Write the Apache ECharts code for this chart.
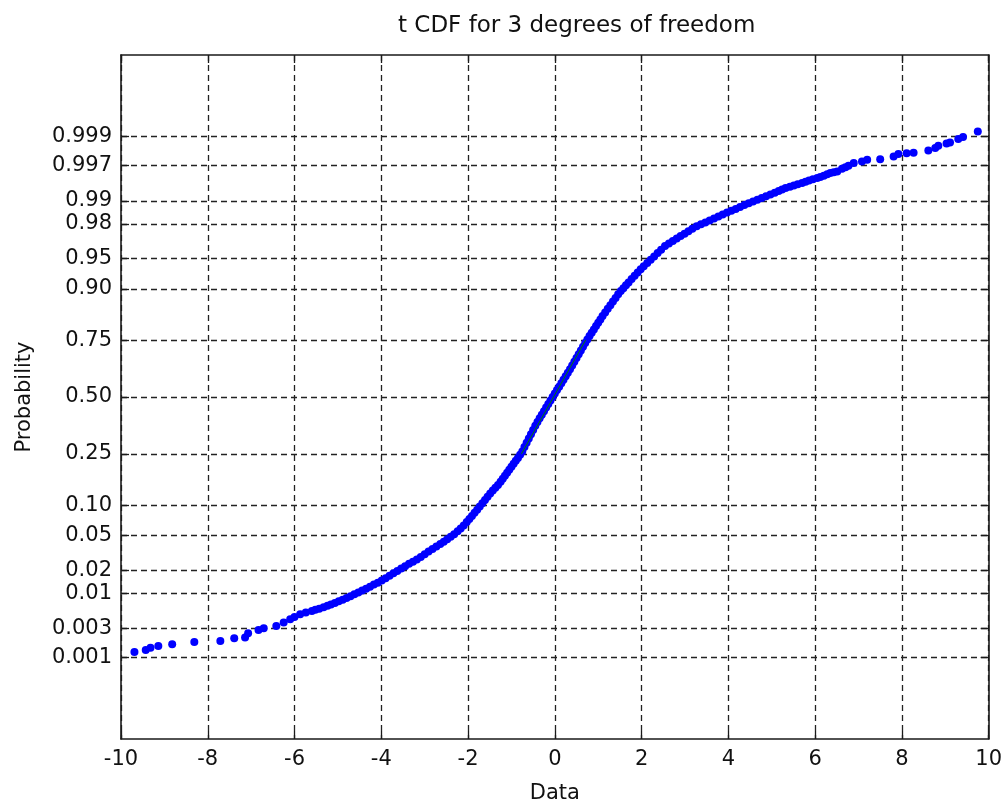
<!DOCTYPE html>
<html>
<head>
<meta charset="utf-8">
<script src="https://cdn.jsdelivr.net/npm/echarts@6.0.0/dist/echarts.min.js"></script>
<style>
html,body{margin:0;padding:0;background:#fff;}
#chart{width:1005px;height:809px;}
</style>
</head>
<body>
<div id="chart"></div>
<script>
// ---- data (x = data value, p = probability) ----
const sampleX = [
 -9.69,-9.43,-9.32,-9.14,-8.82,-8.31,-7.71,-7.39,-7.14,-7.07,-6.83,-6.71,-6.42,-6.25,-6.10,-6.00,-5.87,-5.74,-5.60,-5.52,-5.43,
 -5.33,-5.24,-5.16,-5.07,-4.98,-4.89,-4.80,-4.71,-4.62,-4.53,-4.44,-4.35,-4.26,-4.17,-4.08,-3.99,-3.90,-3.81,-3.72,-3.63,-3.54,-3.45,-3.36,-3.27,-3.18,-3.09,-3.00,-2.91,-2.82,-2.73,-2.64,-2.56,-2.48,-2.40,-2.32,-2.24,-2.17,-2.10,-2.03,-1.97,-1.91,-1.85,-1.79,-1.73,-1.67,-1.61,-1.55,-1.49,-1.43,-1.37,-1.31,-1.25,-1.20,-1.15,-1.10,-1.05,-1.00,-0.95,-0.90,-0.85,-0.80,-0.75,-0.70,-0.65,-0.60,-0.55,-0.50,-0.45,-0.40,-0.35,-0.30,-0.25,-0.20,-0.15,-0.10,-0.05,
 0.00,0.05,0.10,0.15,0.20,0.25,0.30,0.35,0.40,0.45,0.50,0.55,0.60,0.65,0.70,0.75,0.80,0.85,0.90,0.95,1.00,1.05,1.10,1.16,1.22,1.28,1.34,1.40,1.46,1.52,1.58,1.64,1.70,1.77,1.84,1.91,1.98,2.05,2.13,2.21,2.29,2.37,2.45,2.54,2.63,2.72,2.81,2.90,2.99,3.08,3.17,3.27,3.37,3.47,3.57,3.67,3.77,3.87,3.97,4.07,4.17,4.27,4.37,4.47,4.57,4.67,4.77,4.87,4.97,5.07,5.16,5.24,
 5.32,5.42,5.51,5.60,5.70,5.78,5.86,5.95,6.05,6.12,6.20,6.28,6.35,6.43,6.51,6.62,6.70,6.77,6.89,7.08,7.20,7.50,7.81,7.92,8.11,8.27,8.61,8.77,8.84,9.03,9.11,9.30,9.41,9.75
];
const sampleP = [
 0.00125,0.00135,0.00147,0.00157,0.00169,0.00184,0.00191,0.00212,0.00217,0.00255,0.00287,0.00305,0.00331,0.00375,0.00420,0.00453,0.00500,0.00529,0.00559,0.00582,0.00605,
 0.00636,0.00666,0.00694,0.00729,0.00771,0.00814,0.00860,0.00910,0.00966,0.01024,0.01087,0.01153,0.01225,0.01306,0.01387,0.01476,0.01586,0.01707,0.01832,0.01962,0.02100,0.02244,0.02394,0.02542,0.02703,0.02899,0.03120,0.03344,0.03570,0.03816,0.04069,0.04313,0.04584,0.04878,0.05192,0.05572,0.05965,0.06381,0.06923,0.07411,0.07931,0.08479,0.09067,0.09715,0.10388,0.11111,0.11867,0.12634,0.13355,0.14082,0.14851,0.15724,0.16610,0.17496,0.18433,0.19385,0.20391,0.21393,0.22456,0.23521,0.24641,0.25949,0.27628,0.29359,0.31139,0.32928,0.34793,0.36695,0.38401,0.40014,0.41646,0.43331,0.44988,0.46654,0.48325,0.50000,
 0.51635,0.53267,0.54893,0.56512,0.58120,0.59715,0.61292,0.62888,0.64575,0.66198,0.67827,0.69389,0.70952,0.72440,0.73920,0.75232,0.76479,0.77662,0.78842,0.79978,0.81077,0.82114,0.83142,0.84205,0.85220,0.86187,0.87111,0.87993,0.88832,0.89559,0.90161,0.90734,0.91289,0.91909,0.92473,0.93023,0.93506,0.93931,0.94393,0.94818,0.95220,0.95606,0.95958,0.96324,0.96573,0.96791,0.96990,0.97178,0.97360,0.97532,0.97691,0.97853,0.97972,0.98079,0.98186,0.98285,0.98385,0.98475,0.98561,0.98640,0.98714,0.98787,0.98856,0.98922,0.98979,0.99032,0.99085,0.99135,0.99184,0.99229,0.99271,0.99306,
 0.99340,0.99368,0.99394,0.99417,0.99441,0.99465,0.99489,0.99508,0.99530,0.99547,0.99565,0.99585,0.99605,0.99616,0.99625,0.99660,0.99677,0.99695,0.99723,0.99739,0.99754,0.99760,0.99783,0.99801,0.99807,0.99811,0.99826,0.99842,0.99855,0.99867,0.99873,0.99889,0.99897,0.99918
];
// reference line (through the quartiles)
const refLineX = [-0.77, 0.71];
const refLineP = [0.25, 0.75];
// axis ticks
const xTicks = [-10,-8,-6,-4,-2,0,2,4,6,8,10];
const probTicks = [0.001,0.003,0.01,0.02,0.05,0.10,0.25,0.50,0.75,0.90,0.95,0.98,0.99,0.997,0.999];
const probTickLabels = ['0.001','0.003','0.01','0.02','0.05','0.10','0.25','0.50','0.75','0.90','0.95','0.98','0.99','0.997','0.999'];
const titleText = 't CDF for 3 degrees of freedom';
const xName = 'Data';
const yName = 'Probability';

// normal-probability scale transform (probability -> normal quantile)
function norminv(p){
  const a=[-3.969683028665376e+01,2.209460984245205e+02,-2.759285104469687e+02,1.383577518672690e+02,-3.066479806614716e+01,2.506628277459239e+00];
  const b=[-5.447609879822406e+01,1.615858368580409e+02,-1.556989798598866e+02,6.680131188771972e+01,-1.328068155288572e+01];
  const c=[-7.784894002430293e-03,-3.223964580411365e-01,-2.400758277161838e+00,-2.549732539343734e+00,4.374664141464968e+00,2.938163982698783e+00];
  const d=[7.784695709041462e-03,3.224671290700398e-01,2.445134137142996e+00,3.754408661907416e+00];
  const pl=0.02425, ph=1-pl; let q,r;
  if(p<pl){q=Math.sqrt(-2*Math.log(p));return (((((c[0]*q+c[1])*q+c[2])*q+c[3])*q+c[4])*q+c[5])/((((d[0]*q+d[1])*q+d[2])*q+d[3])*q+1);}
  if(p<=ph){q=p-0.5;r=q*q;return (((((a[0]*r+a[1])*r+a[2])*r+a[3])*r+a[4])*r+a[5])*q/(((((b[0]*r+b[1])*r+b[2])*r+b[3])*r+b[4])*r+1);}
  q=Math.sqrt(-2*Math.log(1-p));
  return -(((((c[0]*q+c[1])*q+c[2])*q+c[3])*q+c[4])*q+c[5])/((((d[0]*q+d[1])*q+d[2])*q+d[3])*q+1);
}

const zTicks = probTicks.map(norminv);
const scatterData = sampleX.map((x,i)=>[x, norminv(sampleP[i]), sampleP[i]]);
const lineData = refLineX.map((x,i)=>[x, norminv(refLineP[i])]);
const Z_LIM = 4.055;

function probLabel(v){
  let best=0, bd=Infinity;
  zTicks.forEach((z,i)=>{const dd=Math.abs(z-v); if(dd<bd){bd=dd;best=i;}});
  return bd<1e-6 ? probTickLabels[best] : '';
}

const FONT = 'DejaVu Sans';
const TXT = '#111111';
const FS = 21;
const gridLine = {show:true, lineStyle:{color:'#222222', width:1.3, type:[6,4]}};
const axisLn = {show:true, onZero:false, lineStyle:{color:'#1a1a1a', width:1.6}};

const chart = echarts.init(document.getElementById('chart'), null, {renderer:'canvas'});
chart.setOption({
  animation:false,
  backgroundColor:'#ffffff',
  title:{
    text:titleText, left:393, top:10,
    textStyle:{fontFamily:FONT, fontSize:23, fontWeight:'normal', color:TXT}
  },
  grid:{left:121, right:15, top:55, bottom:69, containLabel:false},
  xAxis:[{
    type:'value', min:-10, max:10, interval:2, position:'bottom',
    name:xName, nameLocation:'middle', nameGap:44,
    nameTextStyle:{fontFamily:FONT, fontSize:FS, color:TXT},
    axisLine:axisLn,
    axisTick:{show:true, inside:true, length:8, lineStyle:{color:'#1a1a1a', width:1.3}},
    axisLabel:{fontFamily:FONT, fontSize:FS, color:TXT, margin:10},
    splitLine:gridLine
  },{
    type:'value', min:-10, max:10, interval:2, position:'top',
    axisLine:axisLn,
    axisTick:{show:true, inside:true, length:8, lineStyle:{color:'#1a1a1a', width:1.3}},
    axisLabel:{show:false}, splitLine:{show:false}
  }],
  yAxis:[{
    type:'value', min:-Z_LIM, max:Z_LIM, position:'left',
    name:yName, nameLocation:'middle', nameGap:86, nameRotate:90,
    nameTextStyle:{fontFamily:FONT, fontSize:FS, color:TXT},
    axisLine:axisLn,
    axisTick:{show:true, inside:true, length:8, customValues:zTicks, lineStyle:{color:'#1a1a1a', width:1.3}},
    axisLabel:{fontFamily:FONT, fontSize:FS, color:TXT, margin:9, customValues:zTicks, formatter:probLabel},
    splitLine:gridLine
  },{
    type:'value', min:-Z_LIM, max:Z_LIM, position:'right',
    axisLine:axisLn,
    axisTick:{show:true, inside:true, length:8, customValues:zTicks, lineStyle:{color:'#1a1a1a', width:1.3}},
    axisLabel:{show:false}, splitLine:{show:false}
  }],
  series:[{
    type:'scatter', xAxisIndex:0, yAxisIndex:0,
    data:scatterData, symbol:'circle', symbolSize:8,
    itemStyle:{color:'#0000ff', opacity:1}, z:3
  },{
    type:'line', xAxisIndex:0, yAxisIndex:0,
    data:lineData, symbol:'none',
    lineStyle:{color:'#008000', width:1}, z:4
  }]
});
</script>
</body>
</html>
